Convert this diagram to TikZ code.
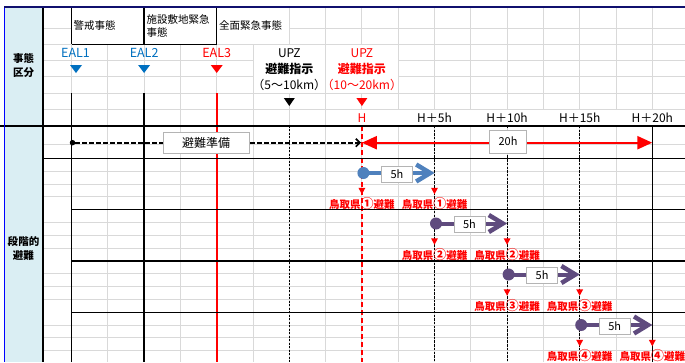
\documentclass[tikz,border=0pt]{standalone}
\usepackage{fontspec}
\setmainfont{Noto Sans CJK JP}
\usetikzlibrary{arrows.meta,calc}
\definecolor{gridgrey}{HTML}{D9D9D9}
\definecolor{hdrblue}{HTML}{DAEEF3}
\definecolor{ealblue}{HTML}{0070C0}
\definecolor{stblue}{HTML}{4F81BD}
\definecolor{stpurple}{HTML}{5F4B7E}
\definecolor{navyline}{HTML}{10106E}
\definecolor{boxgrey}{HTML}{B4B4B4}
\definecolor{xred}{HTML}{FF0000}
\newcommand\mytri[6]{%
  \coordinate (#1) at (#2,#3);
  \fill[#6] ($(#1)+(-#4,-#5/2)$) -- ($(#1)+(#4,-#5/2)$) -- ($(#1)+(0,#5/2)$) -- cycle;}
\newcommand\bignum[1]{{\fontsize{13}{12}\selectfont #1}}
\newcommand\stage[6]{%
  \node[stagedot, fill=#5] (#1s) at (#2+1.5,#4) {};
  \coordinate (#1e) at (#3,#4);
  \coordinate (#1v) at ($(#1e)+(-4.3,0)$);
  \draw[line width=4, draw=#5] (#1s.center) -- (#1v);
  \draw[line width=4.5, draw=#5, line join=miter] ($(#1v)+(-14,-8.5)$) -- (#1v) -- ($(#1v)+(-14,8.5)$);
  \node[fivebox] (#1b) at (#2+35,#4+1) {5h};
  \mytri{#1ta}{#2}{#4+18}{3.5}{6.5}{xred}
  \mytri{#1tb}{#3}{#4+18}{3.5}{6.5}{xred}
  \node[rlabel] (#1la) at (#2,#4+31) {鳥取県\bignum{#6}避難};
  \node[rlabel] (#1lb) at (#3,#4+31) {鳥取県\bignum{#6}避難};}
\begin{document}
\begin{tikzpicture}[x=1pt,y=-1pt,
  gridline/.style={draw=gridgrey, line width=0.9pt},
  blk/.style={draw=black, line width=#1},
  txt/.style={inner sep=0pt, font=\fontsize{10.5}{13}\selectfont},
  hdr/.style={txt, anchor=west, align=left},
  side/.style={txt, font=\bfseries\fontsize{10.5}{14}\selectfont, align=center},
  eal/.style={inner sep=0pt, font=\fontsize{12.5}{14}\selectfont},
  upz/.style={inner sep=0pt, align=center, font=\fontsize{12}{16}\selectfont},
  hlab/.style={inner sep=0pt, font=\fontsize{12}{14}\selectfont},
  stagedot/.style={circle, inner sep=0pt, minimum size=12pt},
  fivebox/.style={draw=boxgrey, fill=white, line width=0.8pt, minimum width=31pt, minimum height=16pt, inner sep=0pt, font=\fontsize{11}{12}\selectfont},
  bigbox/.style={draw=boxgrey, fill=white, line width=0.9pt, inner sep=0pt, font=\fontsize{12}{13}\selectfont},
  rlabel/.style={inner sep=0pt, text=xred, font=\bfseries\fontsize{10.5}{12}\selectfont},
]
\useasboundingbox (0,0) rectangle (685,362);
\fill[white] (0,0) rectangle (685,362);
% side column
\fill[hdrblue] (4,7) rectangle (43,362);
% grey grid horizontals
\draw[gridline] (43,28) -- (71.5,28);
\draw[gridline] (289.3,28) -- (685,28);
\foreach \y in {44.3,60.6,76.9,93.2,109.5,144,171.3,184.1,196.9,222.5,235.3,248.1,273.8,286.6,299.4,325.1,337.9,350.7}
  \draw[gridline] (43,\y) -- (685,\y);
% grey grid verticals
\foreach \k in {0,...,5} \draw[gridline] (71.5+36.3*\k,44.3) -- (71.5+36.3*\k,362);
\foreach \k in {6,...,16} \draw[gridline] (71.5+36.3*\k,7) -- (71.5+36.3*\k,362);
% merged cells
\fill[white] (253.5,44.8) rectangle (325.1,92.7);
\fill[white] (326.1,44.8) rectangle (397.7,92.7);
\fill[white] (326.1,110) rectangle (685,125);
% dashed verticals
\draw[black, line width=0.8pt, dash pattern=on 2pt off 1.5pt] (289.3,125.8) -- (289.3,362);
\foreach \x in {434.5,507.1,579.7}
  \draw[black, line width=1.1pt, dash pattern=on 2.5pt off 1.2pt] (\x,125.8) -- (\x,362);
\draw[blk=1.1pt] (652.3,125.8) -- (652.3,362);
\draw[xred, line width=1.8pt, dash pattern=on 5pt off 3pt] (361.9,125.8) -- (361.9,362);
% black frame lines
\draw[blk=1.6pt] (71.5,7) -- (71.5,44.3);
\draw[blk=1.6pt] (71.5,93.2) -- (71.5,362);
\draw[blk=1.6pt] (144.1,7) -- (144.1,44.3);
\draw[blk=1.6pt] (144.1,93.2) -- (144.1,362);
\draw[blk=1.3pt] (216.7,7) -- (216.7,44.3);
\draw[blk=1pt] (71.5,44.3) -- (216.7,44.3);
\draw[xred, line width=2pt] (216.7,93.2) -- (216.7,362);
\draw[blk=1.6pt] (43,158.5) -- (685,158.5);
\foreach \y in {209.7,261,312.3} \draw[blk=1.3pt] (71.5,\y) -- (685,\y);
\draw[blk=2.2pt] (0,125.8) -- (685,125.8);
\draw[blk=2.2pt] (43,7) -- (43,362);
\draw[draw=blue, line width=1pt] (4,7) -- (4,362);
\draw[draw=navyline, line width=1.6pt] (4,7) -- (685,7);
% side labels
\node[side] (sideA) at (23.5,66) {事態\\区分};
\node[side] (sideB) at (23.5,249) {段階的\\避難};
% header texts
\node[hdr] (h1) at (73.5,25.5) {警戒事態};
\node[hdr] (h2) at (146.5,25.5) {施設敷地緊急\\事態};
\node[hdr] (h3) at (219,25.5) {全面緊急事態};
% EAL
\node[eal, text=ealblue] (eal1) at (75.5,53) {EAL1};
\node[eal, text=ealblue] (eal2) at (144.1,53) {EAL2};
\node[eal, text=xred] (eal3) at (216.7,53) {EAL3};
\mytri{te1}{76}{69}{6}{8}{ealblue}
\mytri{te2}{144.1}{69}{6}{8}{ealblue}
\mytri{te3}{216.7}{69}{6}{8}{xred}
% UPZ
\node[upz] (upzA) at (289.3,69.5) {UPZ\\\textbf{避難指示}\\（5～10km）};
\node[upz, text=xred] (upzB) at (361.9,69.5) {UPZ\\\textbf{避難指示}\\（10～20km）};
\mytri{tu1}{289.3}{102}{5.5}{8}{black}
\mytri{tu2}{361.9}{102}{5.5}{8}{xred}
% H labels
\node[hlab, text=xred] (H0) at (361.9,118) {H};
\node[hlab] (H5) at (434.5,118) {H＋5h};
\node[hlab] (H10) at (507.1,118) {H＋10h};
\node[hlab] (H15) at (579.7,118) {H＋15h};
\node[hlab] (H20) at (652.3,118) {H＋20h};
% preparation arrow
\node[circle, fill=black, inner sep=0pt, minimum size=5.5pt] (prepS) at (72.5,142.7) {};
\coordinate (prepE) at (361,142.7);
\draw[black, line width=1.7pt, dash pattern=on 4.5pt off 2.5pt, -{Straight Barb[length=4pt,width=8pt]}] (prepS) -- (prepE);
\node[bigbox, minimum width=86pt, minimum height=21pt] (prep) at (206,142.5) {避難準備};
% 20h arrow
\coordinate (hS) at (361.9,142.7);
\coordinate (hE) at (652.3,142.7);
\draw[xred, line width=2.4pt, {Triangle[length=15pt,width=13pt]}-{Triangle[length=15pt,width=13pt]}] (hS) -- (hE);
\node[bigbox, minimum width=37pt, minimum height=23pt, font=\fontsize{11}{12}\selectfont] (tw) at (508,141.5) {20h};
% stages
\stage{a}{361.9}{434.5}{173}{stblue}{①}
\stage{b}{434.5}{507.1}{223.5}{stpurple}{②}
\stage{c}{507.1}{579.7}{274.5}{stpurple}{③}
\stage{d}{579.7}{652.3}{325}{stpurple}{④}
\end{tikzpicture}
\end{document}
